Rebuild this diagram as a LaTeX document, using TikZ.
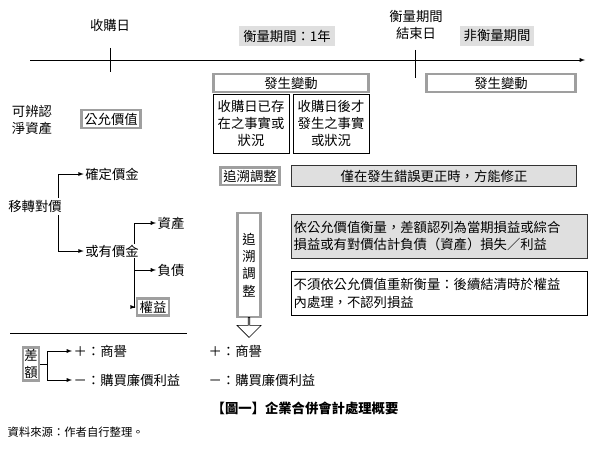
\documentclass[tikz,border=0pt]{standalone}
\usepackage{fontspec}
\setmainfont{Noto Sans CJK TC}
\usetikzlibrary{positioning,shapes.arrows}
\tikzset{
  thickbox/.style={draw=gray!75, line width=2pt, fill=white, inner sep=2pt},
  thinbox/.style={draw=black, thin, inner sep=2pt, align=center},
  graybox/.style={draw=black!80, fill=gray!25, inner sep=2pt},
  tag/.style={fill=gray!25, inner sep=3pt},
  branch/.style={-latex, thin},
  txt/.style={inner sep=1pt}
}
\begin{document}
\begin{tikzpicture}[x=0.75pt,y=-0.75pt,font=\fontsize{10}{13}\selectfont]
\useasboundingbox (0,0) rectangle (600,453);
% time line
\draw[-latex] (30,60) -- (585,60);
\draw (110,48) -- (110,72);
\draw (415,50) -- (415,78);
\node[txt] (acq) at (110,25) {收購日};
\node[tag] (period) at (287,36) {衡量期間：1年};
\node[txt, align=center] (enddate) at (416,25) {衡量期間\\結束日};
\node[tag] (noperiod) at (497,36) {非衡量期間};
% changes
\node[thickbox, text width=112pt, align=center] (chg1) at (291,83) {發生變動};
\node[thickbox, text width=108pt, align=center] (chg2) at (501,83) {發生變動};
\node[thinbox, minimum width=57pt, minimum height=44pt] (exist) at (251,123.5) {收購日已存\\在之事實或\\狀況};
\node[thinbox, minimum width=57pt, minimum height=44pt] (after) at (331,123.5) {收購日後才\\發生之事實\\或狀況};
% identifiable net assets
\node[txt, align=left] (netasset) at (32,120) {可辨認\\淨資產};
\node[thickbox] (fairval) at (111,119) {公允價值};
\node[thickbox] (retro) at (250,176) {追溯調整};
\node[graybox, minimum width=214pt, minimum height=16pt] (onlyerr) at (434,176) {僅在發生錯誤更正時，方能修正};
% consideration transferred
\node[txt] (consid) at (35,206) {移轉對價};
\node[txt] (fixed) at (112,174) {確定價金};
\node[txt] (contin) at (112,251) {或有價金};
\node[txt] (asset) at (171,223) {資產};
\node[txt] (liab) at (171,270) {負債};
\node[thickbox] (equity) at (153,307) {權益};
\draw[branch] (58,198) |- (fixed.west);
\draw[branch] (58,215) |- (contin.west);
\draw[branch] (134,244) |- (asset.west);
\draw[branch] (134,258) |- (liab.west);
\draw[branch] (134,258) |- (equity.west);
% vertical retro box
\node[thickbox, minimum width=17pt, minimum height=78pt, align=center] (retrov) at (249,265) {追\\溯\\調\\整};
\node[single arrow, draw, shape border rotate=270, minimum width=18pt, single arrow head extend=3pt, minimum height=15pt, inner sep=0pt] (down) at (249,327) {};
\node[graybox, text width=218pt, align=left, minimum height=33pt] (fvmeas) at (439,236) {依公允價值衡量，差額認列為當期損益或綜合\\損益或有對價估計負債（資產）損失／利益};
\node[thinbox, text width=218pt, align=left, minimum height=33pt] (nomeas) at (439,293.5) {不須依公允價值重新衡量：後續結清時於權益\\內處理，不認列損益};
% difference
\draw (10,333) -- (187,333);
\node[thickbox, align=center, inner sep=1pt] (diff) at (31,364) {差\\額};
\node[txt, anchor=west] (gw1) at (72,351) {＋：商譽};
\node[txt, anchor=west] (bp1) at (72,380) {－：購買廉價利益};
\draw[branch] (diff.east) -- ++(7,0) |- (gw1.west);
\draw[branch] (diff.east) -- ++(7,0) |- (bp1.west);
\node[txt, anchor=west] (gw2) at (207,351) {＋：商譽};
\node[txt, anchor=west] (bp2) at (207,380) {－：購買廉價利益};
% caption
\node[font=\bfseries\fontsize{10}{12}\selectfont] (caption) at (305,408) {【圖一】企業合併會計處理概要};
\node[anchor=west, font=\fontsize{8.5}{10}\selectfont] (source) at (3,432) {資料來源：作者自行整理。};
\end{tikzpicture}
\end{document}
